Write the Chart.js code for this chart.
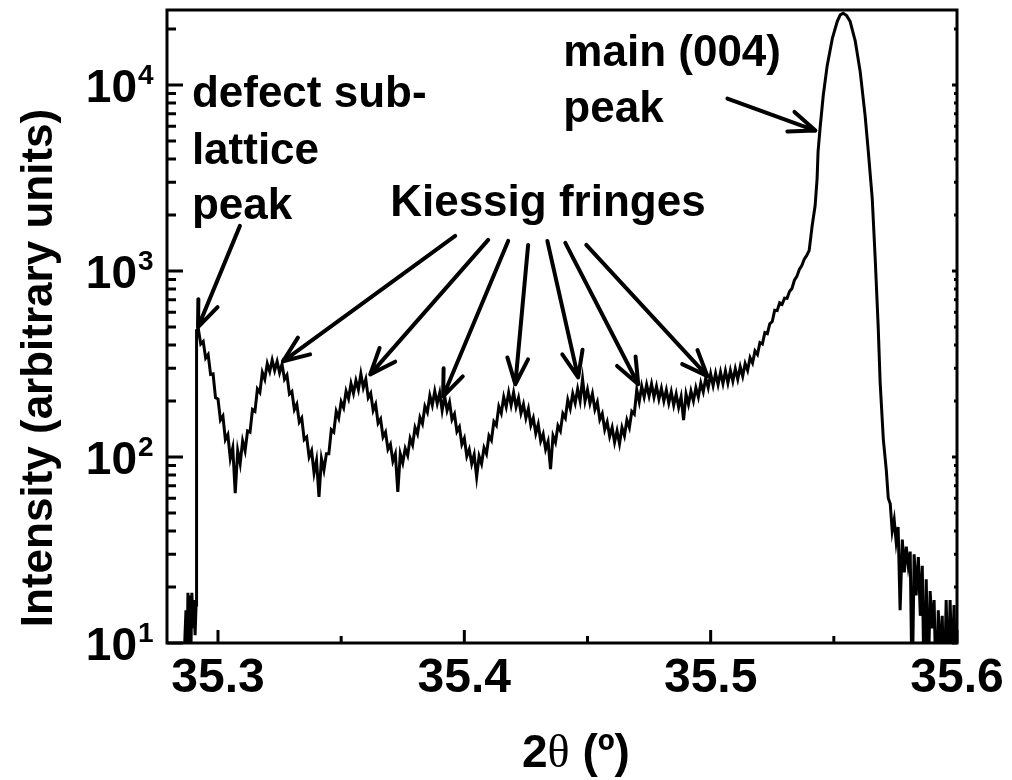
<!DOCTYPE html>
<html>
<head>
<meta charset="utf-8">
<script src="https://cdn.jsdelivr.net/npm/chart.js@4.4.1/dist/chart.umd.min.js"></script>
<style>
  html, body { margin: 0; padding: 0; background: #fff; }
  #plot { display: block; }
</style>
</head>
<body>
<canvas id="plot" width="1012" height="780"></canvas>
<script>
// 2theta scan in pieces
const onsetTheta = [35.2858, 35.2866, 35.2870, 35.2874, 35.2878, 35.2882, 35.2886, 35.2890, 35.2894, 35.2899, 35.2903, 35.2907, 35.2911, 35.2913];
const onsetCounts = [5, 11, 15, 7, 18.6, 10, 18, 9, 18.6, 12, 17, 11, 16, 480];

// fringe region, noisy
const fringeTheta = [
  35.292, 35.293, 35.294, 35.295, 35.296, 35.297, 35.298, 35.299, 35.300, 35.301,
  35.302, 35.303, 35.304, 35.305, 35.306, 35.307, 35.308, 35.309, 35.310, 35.311,
  35.312, 35.313, 35.314, 35.315, 35.316, 35.317, 35.318, 35.319, 35.320, 35.321,
  35.322, 35.323, 35.324, 35.325, 35.326, 35.327, 35.328, 35.329, 35.330, 35.331,
  35.332, 35.333, 35.334, 35.335, 35.336, 35.337, 35.338, 35.339, 35.340, 35.341,
  35.342, 35.343, 35.344, 35.345, 35.346, 35.347, 35.348, 35.349, 35.350, 35.351,
  35.352, 35.353, 35.354, 35.355, 35.356, 35.357, 35.358, 35.359, 35.360, 35.361,
  35.362, 35.363, 35.364, 35.365, 35.366, 35.367, 35.368, 35.369, 35.370, 35.371,
  35.372, 35.373, 35.374, 35.375, 35.376, 35.377, 35.378, 35.379, 35.380, 35.381,
  35.382, 35.383, 35.384, 35.385, 35.386, 35.387, 35.388, 35.389, 35.390, 35.391,
  35.392, 35.393, 35.394, 35.395, 35.396, 35.397, 35.398, 35.399, 35.400, 35.401,
  35.402, 35.403, 35.404, 35.405, 35.406, 35.407, 35.408, 35.409, 35.410, 35.411,
  35.412, 35.413, 35.414, 35.415, 35.416, 35.417, 35.418, 35.419, 35.420, 35.421,
  35.422, 35.423, 35.424, 35.425, 35.426, 35.427, 35.428, 35.429, 35.430, 35.431,
  35.432, 35.433, 35.434, 35.435, 35.436, 35.437, 35.438, 35.439, 35.440, 35.441,
  35.442, 35.443, 35.444, 35.445, 35.446, 35.447, 35.448, 35.449, 35.450, 35.451,
  35.452, 35.453, 35.454, 35.455, 35.456, 35.457, 35.458, 35.459, 35.460, 35.461,
  35.462, 35.463, 35.464, 35.465, 35.466, 35.467, 35.468, 35.469, 35.470, 35.471,
  35.472, 35.473, 35.474, 35.475, 35.476, 35.477, 35.478, 35.479, 35.480, 35.481,
  35.482, 35.483, 35.484, 35.485, 35.486, 35.487, 35.488, 35.489, 35.490, 35.491,
  35.492, 35.493, 35.494, 35.495, 35.496, 35.497, 35.498, 35.499, 35.500, 35.501,
  35.502, 35.503, 35.504, 35.505, 35.506, 35.507, 35.508, 35.509, 35.510, 35.511,
  35.512, 35.513, 35.514, 35.515, 35.516, 35.517, 35.518, 35.519, 35.520, 35.521,
  35.522, 35.523, 35.524, 35.525, 35.526, 35.527, 35.528, 35.529, 35.530, 35.531,
  35.532, 35.533, 35.534, 35.535, 35.536, 35.537, 35.538, 35.539, 35.540
];
const fringeCounts = [
  490, 405, 418, 340, 355, 278, 280, 208, 205, 158,
  166, 124, 132, 98, 112, 64, 108, 92, 122, 108,
  138, 136, 180, 176, 232, 222, 285, 262, 318, 288,
  332, 292, 326, 284, 316, 262, 276, 218, 225, 180,
  192, 154, 162, 124, 128, 100, 108, 82, 96, 61,
  98, 85, 104, 104, 140, 136, 176, 162, 198, 184,
  226, 206, 248, 220, 258, 230, 280, 236, 262, 208,
  220, 178, 192, 152, 160, 128, 136, 110, 117, 95,
  104, 65, 104, 93, 111, 102, 126, 116, 144, 133,
  163, 151, 187, 174, 214, 190, 226, 194, 221, 178,
  213, 178, 197, 159, 170, 137, 145, 117, 126, 101,
  110, 92, 103, 78, 101, 92, 112, 104, 130, 123,
  155, 148, 187, 172, 210, 186, 222, 190, 222, 186,
  208, 172, 192, 162, 182, 148, 162, 134, 150, 122,
  133, 110, 121, 86, 130, 120, 147, 138, 171, 162,
  203, 182, 219, 195, 232, 200, 262, 200, 230, 194,
  219, 180, 197, 159, 171, 140, 154, 129, 144, 120,
  138, 118, 144, 130, 158, 144, 176, 170, 230, 198,
  240, 210, 245, 213, 247, 210, 240, 205, 234, 200,
  229, 195, 224, 190, 218, 185, 211, 158, 218, 192,
  226, 200, 236, 210, 250, 224, 266, 236, 280, 242,
  282, 245, 286, 248, 290, 250, 292, 256, 298, 262,
  306, 272, 318, 292, 342, 320, 372, 356, 412, 405,
  466, 460, 520, 535, 615, 612, 675, 662, 715, 712,
  775, 805, 892, 935, 1020, 1070, 1158, 1212, 1290
];

const peakTheta = [
  35.5412, 35.5424, 35.5432, 35.5436, 35.5444, 35.5457, 35.5473, 35.5494, 35.5514, 35.5526,
  35.5538, 35.5552, 35.5566, 35.5587, 35.5607, 35.5627, 35.5640, 35.5656, 35.5668, 35.5680,
  35.5688, 35.5701
];
const peakCounts = [
  1750, 2240, 3130, 4380, 5830, 8780, 12700, 17800, 22000, 23800,
  24300, 23600, 22000, 17200, 11800, 6850, 4380, 2440, 1160, 505,
  252, 124
];

const tailTheta = [
  35.5713, 35.5721, 35.5729, 35.5737, 35.5745, 35.5753, 35.5761, 35.5769, 35.5778, 35.5786,
  35.5794, 35.5802, 35.5810, 35.5818, 35.5826, 35.5834, 35.5843, 35.5851, 35.5859, 35.5867,
  35.5875, 35.5883, 35.5891, 35.5899, 35.5907, 35.5916, 35.5924, 35.5932, 35.5940, 35.5948,
  35.5956, 35.5964, 35.5972, 35.5980, 35.5988, 35.5996
];
const tailCounts = [
  85, 60, 56, 40, 46, 35, 42, 15, 36, 24,
  33, 26, 31, 5, 30, 18, 29, 14, 26, 5,
  22, 6, 19, 12, 17, 5, 15, 8, 14, 5,
  17, 6, 17, 7, 16, 5
];

// axes
const xTickValues = [35.3, 35.4, 35.5, 35.6];
const xMinorTicks = [35.35, 35.45, 35.55];
const yDecades = [10, 100, 1000, 10000];
const yExponents = ['1', '2', '3', '4'];

// annotations, in data units (2theta, counts)
const noteText = ['defect sub-', 'lattice', 'peak', 'Kiessig fringes', 'main (004)', 'peak'];
const noteTheta = [35.2894, 35.2894, 35.2894, 35.3699, 35.4402, 35.4402];
const noteCounts = [7656, 3775, 1907, 1979, 12580, 6358];

const arrowFrom = [
  [35.3089, 1748],
  [35.3963, 1544], [35.4097, 1469], [35.4178, 1451], [35.4259, 1381],
  [35.4337, 1451], [35.4410, 1416], [35.4495, 1381],
  [35.5068, 8456]
];
const arrowTo = [
  [35.2919, 499],
  [35.3264, 327], [35.3618, 278], [35.3914, 212], [35.4207, 246],
  [35.4462, 268], [35.4706, 246], [35.4987, 272],
  [35.5425, 5685]
];

const FONT = '"Liberation Sans", Arial, sans-serif';

const scan = [];
[[onsetTheta, onsetCounts], [fringeTheta, fringeCounts], [peakTheta, peakCounts], [tailTheta, tailCounts]]
  .forEach(([t, c]) => t.forEach((v, i) => scan.push({ x: v, y: c[i] })));

function arrow(ctx, x0, y0, x1, y1) {
  const ang = Math.atan2(y0 - y1, x0 - x1);
  const head = 28, spread = 0.38;
  ctx.beginPath();
  ctx.moveTo(x0, y0);
  ctx.lineTo(x1, y1);
  ctx.moveTo(x1 + head * Math.cos(ang + spread), y1 + head * Math.sin(ang + spread));
  ctx.lineTo(x1, y1);
  ctx.lineTo(x1 + head * Math.cos(ang - spread), y1 + head * Math.sin(ang - spread));
  ctx.stroke();
}

const decorations = {
  id: 'decorations',
  afterDatasetsDraw(chart) {
    const { ctx, chartArea: a, scales: { x, y } } = chart;
    ctx.save();
    ctx.strokeStyle = '#000';
    ctx.fillStyle = '#000';

    // frame
    ctx.lineWidth = 3;
    ctx.strokeRect(a.left, a.top, a.right - a.left, a.bottom - a.top);

    // inward ticks on x
    ctx.beginPath();
    xTickValues.forEach(v => {
      const px = x.getPixelForValue(v);
      ctx.moveTo(px, a.bottom); ctx.lineTo(px, a.bottom - 13);
    });
    xMinorTicks.forEach(v => {
      const px = x.getPixelForValue(v);
      ctx.moveTo(px, a.bottom); ctx.lineTo(px, a.bottom - 7);
    });
    ctx.stroke();

    // inward ticks on y (left long, right short)
    ctx.beginPath();
    yDecades.forEach(d => {
      for (let m = 1; m <= 9; m++) {
        const v = d * m;
        if (v > y.max) break;
        const py = y.getPixelForValue(v);
        const len = m === 1 ? 16 : 9;
        ctx.moveTo(a.left, py); ctx.lineTo(a.left + len, py);
        ctx.moveTo(a.right, py); ctx.lineTo(a.right - (m === 1 ? 5 : 3), py);
      }
    });
    ctx.stroke();

    // y tick labels 10^n
    yDecades.forEach((d, i) => {
      const py = y.getPixelForValue(d);
      ctx.font = 'bold 46px ' + FONT;
      ctx.textAlign = 'right';
      ctx.textBaseline = 'alphabetic';
      ctx.fillText('10', 137, py + 17);
      ctx.font = 'bold 28px ' + FONT;
      ctx.textAlign = 'left';
      ctx.fillText(yExponents[i], 138, py - 1);
    });

    // y axis title
    ctx.save();
    ctx.translate(52, 368);
    ctx.rotate(-Math.PI / 2);
    ctx.font = 'bold 44px ' + FONT;
    ctx.textAlign = 'center';
    ctx.textBaseline = 'alphabetic';
    ctx.fillText('Intensity (arbitrary units)', 0, 0);
    ctx.restore();

    // x axis title: 2θ (º)
    ctx.textAlign = 'left';
    ctx.textBaseline = 'alphabetic';
    let tx = 522;
    const ty = 767;
    ctx.font = 'bold 46px ' + FONT;
    ctx.fillText('2', tx, ty);
    tx += ctx.measureText('2').width;
    ctx.font = '46px "Liberation Serif", "Times New Roman", serif';
    ctx.fillText('θ', tx, ty);
    tx += ctx.measureText('θ').width;
    ctx.font = 'bold 46px ' + FONT;
    ctx.fillText(' (º)', tx, ty);

    // annotation text
    ctx.font = 'bold 44px ' + FONT;
    noteText.forEach((t, i) => {
      ctx.fillText(t, x.getPixelForValue(noteTheta[i]), y.getPixelForValue(noteCounts[i]));
    });

    // arrows
    ctx.lineWidth = 4;
    ctx.lineCap = 'round';
    ctx.lineJoin = 'round';
    arrowFrom.forEach((p, i) => {
      const q = arrowTo[i];
      arrow(ctx, x.getPixelForValue(p[0]), y.getPixelForValue(p[1]),
        x.getPixelForValue(q[0]), y.getPixelForValue(q[1]));
    });

    ctx.restore();
  }
};

new Chart(document.getElementById('plot'), {
  type: 'line',
  data: {
    datasets: [{
      data: scan,
      borderColor: '#000',
      borderWidth: 3,
      pointRadius: 0,
      tension: 0,
      fill: false
    }]
  },
  options: {
    responsive: false,
    animation: false,
    devicePixelRatio: 1,
    layout: { padding: { top: 10, right: 55, left: 0, bottom: 0 } },
    plugins: { legend: { display: false }, tooltip: { enabled: false } },
    scales: {
      x: {
        type: 'linear',
        min: 35.2793,
        max: 35.6,
        grid: { display: false, drawTicks: false },
        border: { display: false },
        afterBuildTicks: s => { s.ticks = xTickValues.map(v => ({ value: v })); },
        afterFit: s => { s.height = 137; },
        ticks: {
          color: '#000',
          font: { family: FONT, size: 48, weight: 'bold' },
          padding: 7,
          maxRotation: 0,
          autoSkip: false,
          callback: v => v.toFixed(1)
        }
      },
      y: {
        type: 'logarithmic',
        min: 10,
        max: 25300,
        grid: { display: false, drawTicks: false },
        border: { display: false },
        ticks: { display: false },
        afterFit: s => { s.width = 167; }
      }
    }
  },
  plugins: [decorations]
});
</script>
</body>
</html>
